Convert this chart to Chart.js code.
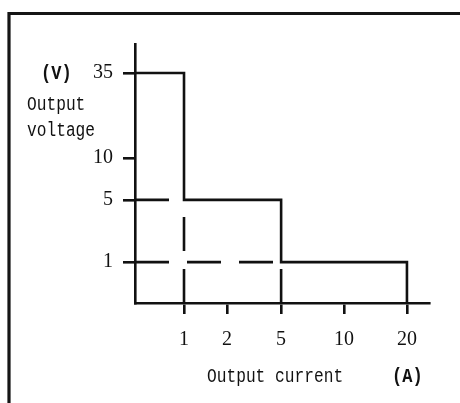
<!DOCTYPE html>
<html>
<head>
<meta charset="utf-8">
<script src="https://cdn.jsdelivr.net/npm/chart.js@4.4.1/dist/chart.umd.min.js"></script>
<style>
  html, body { margin: 0; padding: 0; background: #fff; }
  canvas { display: block; }
</style>
</head>
<body>
<canvas id="ivChart" width="460" height="403"></canvas>
<script>
const currentTicks = [1, 2, 5, 10, 20];
const voltageTicks = [1, 5, 10, 35];

// output limit curve (A, V)
const limitCurrent = [0, 1, 1, 5, 5, 20, 20];
const limitVoltage = [35, 35, 5, 5, 1, 1, 0];

// dashed guide lines, each one a pair of points
const guideCurrent = [[0, 1], [1, 1], [0, 5], [5, 5]];
const guideVoltage = [[5, 5], [0, 5], [1, 1], [0, 1]];

const ink = '#111';
const serif = '"Liberation Serif", "DejaVu Serif", serif';
const mono = '"Liberation Mono", "DejaVu Sans Mono", monospace';

// the drawing is a schematic: axis steps are not to scale,
// so map values through a few stops (value -> fraction of axis)
class PiecewiseScale extends Chart.LinearScale {
  getPixelForValue(value) {
    const s = this.options.stops;
    let i = 1;
    while (i < s.length - 1 && value > s[i][0]) i++;
    const [v0, f0] = s[i - 1], [v1, f1] = s[i];
    return this.getPixelForDecimal(f0 + (value - v0) / (v1 - v0) * (f1 - f0));
  }
  getValueForPixel(pixel) {
    const s = this.options.stops;
    const d = this.getDecimalForPixel(pixel);
    let i = 1;
    while (i < s.length - 1 && d > s[i][1]) i++;
    const [v0, f0] = s[i - 1], [v1, f1] = s[i];
    return v0 + (d - f0) / (f1 - f0) * (v1 - v0);
  }
}
PiecewiseScale.id = 'piecewise';
PiecewiseScale.defaults = {};
Chart.register(PiecewiseScale);

const toPoints = (xs, ys) => xs.map((x, i) => ({ x, y: ys[i] }));

const datasets = [{
  data: toPoints(limitCurrent, limitVoltage),
  borderColor: ink,
  borderWidth: 2.6,
  pointRadius: 0,
  tension: 0
}];
guideCurrent.forEach((xs, i) => {
  datasets.push({
    data: toPoints(xs, guideVoltage[i]),
    borderColor: ink,
    borderWidth: 2.6,
    borderDash: [34, 18],
    borderCapStyle: 'butt',
    pointRadius: 0
  });
});

// narrow, tall mono text like the original's typeface
function squeezed(ctx, text, x, y, font) {
  ctx.save();
  ctx.font = font;
  ctx.translate(x, y);
  ctx.scale(0.81, 1);
  ctx.fillText(text, 0, 0);
  ctx.restore();
}

const framePlugin = {
  id: 'frame',
  beforeDraw(chart) {
    const { ctx, width, height } = chart;
    ctx.save();
    ctx.fillStyle = '#fff';
    ctx.fillRect(0, 0, width, height);
    ctx.strokeStyle = '#151515';
    ctx.lineWidth = 3.2;
    ctx.beginPath();
    ctx.moveTo(9, height);
    ctx.lineTo(9, 13.5);
    ctx.lineTo(width, 13.5);
    ctx.stroke();
    ctx.restore();
  },
  afterDraw(chart) {
    const { ctx } = chart;
    const y = chart.scales.y;
    const top = y.getPixelForValue(voltageTicks[voltageTicks.length - 1]);
    ctx.save();
    ctx.fillStyle = ink;
    ctx.textBaseline = 'middle';
    ctx.textAlign = 'left';
    squeezed(ctx, '(V)', 41, top + 1, 'bold 21px ' + mono);
    squeezed(ctx, '(A)', 392, 377, 'bold 21px ' + mono);
    squeezed(ctx, 'Output', 27, 105, '20px ' + mono);
    squeezed(ctx, 'voltage', 27, 131, '20px ' + mono);
    squeezed(ctx, 'Output current', 207, 377, '20px ' + mono);
    ctx.restore();
  }
};

new Chart(document.getElementById('ivChart'), {
  type: 'line',
  data: { datasets },
  plugins: [framePlugin],
  options: {
    responsive: false,
    animation: false,
    layout: { padding: { top: 44, right: 31, left: 0, bottom: 0 } },
    plugins: {
      legend: { display: false },
      tooltip: { enabled: false }
    },
    scales: {
      x: {
        type: 'piecewise',
        min: 0,
        max: 24,
        stops: [[0, 0], [1, 0.1667], [2, 0.313], [5, 0.497], [10, 0.711], [20, 0.925], [24, 1]],
        afterBuildTicks: axis => { axis.ticks = currentTicks.map(value => ({ value })); },
        afterFit: axis => { axis.height = 100; },
        border: { color: ink, width: 2.6 },
        grid: { drawOnChartArea: false, color: ink, lineWidth: 2.6, tickLength: 11 },
        ticks: {
          color: ink,
          padding: 14,
          maxRotation: 0,
          autoSkip: false,
          font: { family: serif, size: 20 }
        }
      },
      y: {
        type: 'piecewise',
        min: 0,
        max: 40,
        stops: [[0, 0], [1, 0.158], [5, 0.398], [10, 0.56], [35, 0.888], [40, 1]],
        afterBuildTicks: axis => { axis.ticks = voltageTicks.map(value => ({ value })); },
        afterFit: axis => { axis.width = 135; },
        border: { color: ink, width: 2.6 },
        grid: { drawOnChartArea: false, color: ink, lineWidth: 2.6, tickLength: 12 },
        ticks: {
          color: ink,
          padding: 10,
          autoSkip: false,
          font: { family: serif, size: 20 }
        }
      }
    }
  }
});
</script>
</body>
</html>
